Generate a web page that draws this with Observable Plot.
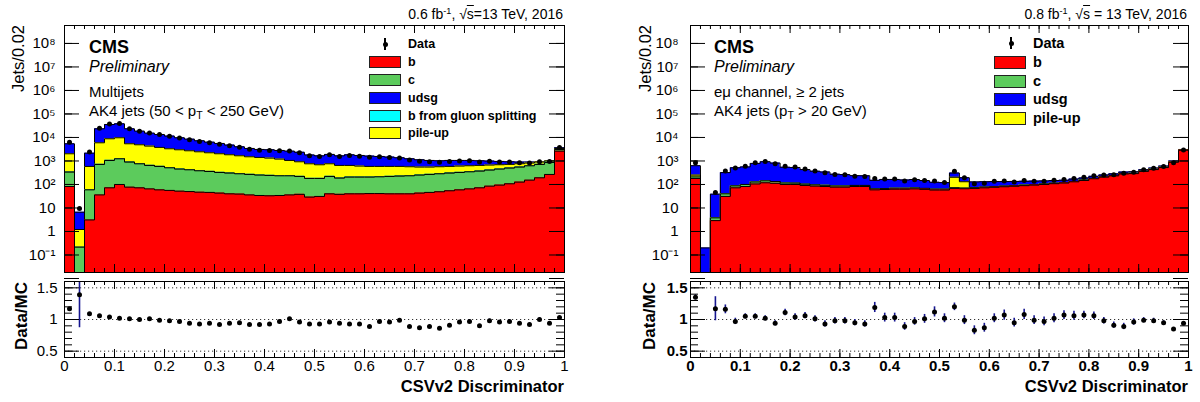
<!DOCTYPE html>
<html><head><meta charset="utf-8">
<script src="https://cdn.jsdelivr.net/npm/d3@7"></script>
<script src="https://cdn.jsdelivr.net/npm/@observablehq/plot@0.6"></script>
<style>
html,body{margin:0;padding:0;background:#fff;}
#root{position:relative;width:1200px;height:402px;overflow:hidden;font-family:"Liberation Sans",Arial,Helvetica,sans-serif;color:#000;}
#root svg{position:absolute;overflow:visible;}
.t{position:absolute;white-space:nowrap;line-height:1;}
.t sub{font-size:0.7em;vertical-align:baseline;position:relative;top:0.35em;}
.t sup{font-size:0.65em;vertical-align:baseline;position:relative;top:-0.5em;}
.ov{text-decoration:overline;}
.sw{position:absolute;box-sizing:border-box;border:1px solid #222;}
</style></head><body><div id="root"></div>
<script>
// ---------- binning ----------
const binWidth = 0.02;
const binLo = d3.range(50).map(i => Math.round(i * binWidth * 100) / 100);

// ---------- left panel: multijets ----------
const leftB = [82, 0, 3.1, 36, 72, 100, 77, 72, 65, 59, 56, 52, 50, 47, 46, 43, 40, 39, 36, 34,
  33, 34, 36, 38, 29, 31, 40, 38,
  40, 40, 41, 41, 40, 40, 40, 43, 46, 49, 54, 59, 65, 72, 85, 94, 107, 126, 153, 192, 267, 2620];
const leftC = [253, 0.215, 56, 674, 978, 1137, 815, 685, 579, 525, 456, 398, 371, 335, 311, 281, 264, 246, 231, 216,
  209, 200, 198, 181, 151, 149, 179, 148,
  165, 165, 164, 171, 179, 186, 194, 207, 221, 236, 250, 265, 281, 297, 323, 356, 389, 421, 470, 518, 597, 470];
const leftBgs = [4, 0, 1, 10, 15, 17, 12, 10, 9, 8, 7, 6, 6, 5, 5, 4, 4, 4, 3, 3,
  3, 3, 3, 3, 2, 2, 3, 2, 2, 2, 2, 2, 3, 3, 3, 3, 3, 4, 4, 4, 4, 4, 5, 5, 6, 6, 7, 8, 9, 7];
const leftPu = [1685, 1.0, 525, 5220, 7730, 8450, 4490, 4120, 3640, 3180, 2790, 2540, 2290, 2070, 1870, 1700, 1530, 1375, 1240, 1160,
  1078, 964, 816, 703, 577, 507, 538, 458,
  439, 398, 379, 372, 365, 358, 331, 297, 280, 280, 280, 279, 277, 275, 257, 237, 214, 210, 186, 182, 120, 310];
const leftUdsg = [3360, 5.4, 1570, 17470, 26900, 28500, 18000, 13700, 11000, 9640, 8100, 6700, 5780, 4760, 4100, 3540, 2890, 2350, 1900, 1680,
  1670, 1602, 1570, 1418, 1043, 963, 1143, 1006,
  1186, 1112, 1023, 971, 872, 781, 672, 575, 503, 451, 466, 447, 427, 372, 319, 266, 212, 135, 83, 30, 32, 230];
const leftData = [6300, 9.5, 2400, 24800, 37100, 39000, 23600, 18600, 15450, 13270, 11170, 9400, 7980, 6700, 5950, 5115, 4440, 3810, 3130, 2840,
  2780, 2716, 2646, 2246, 1674, 1535, 1824, 1551, 1702, 1595, 1430, 1508, 1398, 1351, 1100, 976, 935, 874, 955, 1008,
  1018, 914, 964, 915, 894, 838, 820, 922, 955, 3740];
const leftRatio = [1.17, 1.39, 1.09, 1.06, 1.04, 1.02, 1.01, 1.0, 1.01, 0.99, 0.98, 0.97, 0.94, 0.93, 0.94, 0.92, 0.94, 0.95, 0.92, 0.92,
  0.93, 0.97, 1.01, 0.96, 0.93, 0.93, 0.96, 0.94, 0.93, 0.93, 0.89, 0.97, 0.96, 0.99, 0.89, 0.87, 0.89, 0.86, 0.91, 0.96,
  0.97, 0.90, 0.98, 0.96, 0.97, 0.94, 0.92, 1.0, 0.94, 1.03];
const leftRatioErr = [0.015, 0.52, 0.01, 0.005, 0.005, 0.005, 0.005, 0.005, 0.005, 0.005,
  0.005, 0.005, 0.006, 0.006, 0.007, 0.007, 0.008, 0.008, 0.009, 0.01,
  0.01, 0.01, 0.01, 0.01, 0.012, 0.012, 0.012, 0.012, 0.012, 0.013,
  0.013, 0.014, 0.015, 0.015, 0.016, 0.017, 0.018, 0.02, 0.02, 0.025,
  0.025, 0.02, 0.025, 0.02, 0.025, 0.025, 0.025, 0.025, 0.025, 0.01];

// ---------- right panel: e-mu channel ----------
const rightB = [180, 0, 2.9, 31, 72, 82, 105, 118, 112, 100, 100, 91, 85, 82, 77, 77, 82, 82, 59, 61,
  63, 63, 65, 62, 58, 58, 68, 66, 68, 72, 76, 80, 84, 89, 94, 100, 108, 115, 130, 148,
  175, 205, 232, 280, 290, 360, 430, 525, 880, 2850];
const rightC = [30, 0, 0.9, 9, 15, 18, 22, 25, 22, 15, 14, 12, 11, 10, 9, 9, 9, 9, 6, 6,
  6, 6, 6, 6, 5, 5, 5, 5, 5, 5, 5, 5, 5, 5, 5, 5, 5, 5, 5, 6, 6, 7, 7, 8, 8, 9, 10, 12, 15, 25];
const rightPu = [40, 0, 0, 0, 0, 0, 0, 0, 0, 0, 0, 0, 0, 0, 0, 0, 0, 0, 0, 0,
  0, 0, 0, 0, 0, 0, 130, 60, 0, 0, 0, 0, 0, 0, 0, 0, 0, 0, 0, 0,
  0, 0, 0, 0, 0, 0, 0, 0, 0, 0];
const rightUdsg = [380, 0.2, 35, 280, 428, 460, 663, 787, 676, 425, 416, 327, 270, 248, 187, 177, 147, 144, 85, 97,
  95, 87, 92, 79, 61, 57, 104, 63, 56, 54, 52, 48, 46, 43, 40, 37, 34, 32, 35, 36,
  41, 43, 45, 49, 49, 55, 60, 68, 105, 210];
const rightData = [850, null, 46, 370, 500, 590, 830, 950, 760, 600, 550, 455, 370, 315, 268, 258, 226, 219, 178, 169,
  169, 139, 158, 148, 139, 122, 369, 192, 107, 114, 136, 142, 128, 148, 138, 138, 150, 163, 180, 203,
  235, 250, 258, 300, 333, 420, 490, 575, 850, 2900];
const rightRatio = [1.35, null, 1.17, 1.16, 0.97, 1.05, 1.05, 1.02, 0.94, 1.11, 1.04, 1.06, 1.01, 0.93, 0.98, 0.98, 0.95, 0.93, 1.19, 1.03,
  1.03, 0.89, 0.97, 1.01, 1.12, 1.02, 1.2, 0.99, 0.83, 0.87, 1.02, 1.07, 0.95, 1.08, 0.99, 0.97, 1.02, 1.07, 1.06, 1.07,
  1.06, 0.98, 0.91, 0.89, 0.96, 0.99, 0.98, 0.95, 0.85, 0.94];
const rightRatioErr = [0.04, null, 0.19, 0.07, 0.05, 0.04, 0.04, 0.04, 0.04, 0.05,
  0.05, 0.05, 0.05, 0.05, 0.05, 0.05, 0.05, 0.05, 0.08, 0.07,
  0.07, 0.06, 0.06, 0.07, 0.08, 0.07, 0.06, 0.07, 0.07, 0.07,
  0.07, 0.08, 0.07, 0.08, 0.07, 0.07, 0.07, 0.07, 0.07, 0.06,
  0.06, 0.05, 0.05, 0.05, 0.05, 0.04, 0.04, 0.03, 0.02, 0.01];

// ---------- ticks / labels ----------
const yLogTicks = [1e-1, 1, 10, 1e2, 1e3, 1e4, 1e5, 1e6, 1e7, 1e8];
const xTickLabels = [0, 0.1, 0.2, 0.3, 0.4, 0.5, 0.6, 0.7, 0.8, 0.9, 1];
const ratioTicks = [0.5, 1, 1.5];
const ratioGrid = [0.5, 1, 1.5];
const legendLeft = ["Data", "b", "c", "udsg", "b from gluon splitting", "pile-up"];
const legendRight = ["Data", "b", "c", "udsg", "pile-up"];

const COL = {b: "#ff0000", c: "#5ccb5c", udsg: "#0000ff", bgs: "#00ffff", pu: "#ffff00"};
const yDomain = [0.018, 5.8e8];
const rDomain = [0.4, 1.6];
const FLOOR = 1e-4;
const FONT = '"Liberation Sans", Arial, Helvetica, sans-serif';
const root = document.getElementById("root");

const supMap = {"-": "⁻", "0": "⁰", "1": "¹", "2": "²", "3": "³", "4": "⁴", "5": "⁵", "6": "⁶", "7": "⁷", "8": "⁸", "9": "⁹"};
function logFmt(v) {
  const e = Math.round(Math.log10(v));
  if (e === 0) return "1";
  if (e === 1) return "10";
  return "10" + String(e).split("").map(ch => supMap[ch]).join("");
}

function tickMarks(pw, ph, xMaj, xMin, yMaj, yMin, L) {
  const s = {stroke: "#000", strokeWidth: 1};
  return [
    Plot.ruleX(xMin, {x: d => d, insetTop: ph - L.xMin, ...s}),
    Plot.ruleX(xMin, {x: d => d, insetBottom: ph - L.xMin, ...s}),
    Plot.ruleX(xMaj, {x: d => d, insetTop: ph - L.xMaj, ...s}),
    Plot.ruleX(xMaj, {x: d => d, insetBottom: ph - L.xMaj, ...s}),
    Plot.ruleY(yMin, {y: d => d, insetRight: pw - L.yMin, ...s}),
    Plot.ruleY(yMin, {y: d => d, insetLeft: pw - L.yMin, ...s}),
    Plot.ruleY(yMaj, {y: d => d, insetRight: pw - L.yMaj, ...s}),
    Plot.ruleY(yMaj, {y: d => d, insetLeft: pw - L.yMaj, ...s})
  ];
}

const xMinorTicks = d3.range(0, 1.0001, binWidth);
const yMinorLog = d3.scaleLog().domain(yDomain).ticks();
const rMinor = d3.range(0.5, 1.51, 0.1);

function place(svg, left, top) {
  svg.style.left = left + "px";
  svg.style.top = top + "px";
  root.appendChild(svg);
}

function topPanel(o) {
  const W = 600, H = 275, mT = 25, mB = 3;
  const pw = W - o.mL - o.mR, ph = H - mT - mB;
  let run = binLo.map(() => 0);
  const cumLayers = o.layers.map(l => { run = run.map((s, i) => s + l.vals[i]); return {color: l.color, top: run}; });
  const edgeRows = top => binLo.map((x, i) => ({x, v: Math.max(top[i], FLOOR)}))
    .concat([{x: 1, v: Math.max(top[top.length - 1], FLOOR)}]);
  const marks = [];
  for (let k = cumLayers.length - 1; k >= 0; k--) {
    const rows = edgeRows(cumLayers[k].top);
    marks.push(Plot.area(rows, {x1: "x", y1: FLOOR, y2: "v", curve: "step-after", fill: cumLayers[k].color, clip: true}));
    marks.push(Plot.line(rows, {x: "x", y: "v", curve: "step-after", stroke: "#000", strokeWidth: 1, clip: true}));
  }
  const pts = binLo.map((x, i) => ({x: x + binWidth / 2, v: o.data[i]})).filter(d => d.v != null && d.v > 0);
  marks.push(Plot.dot(pts, {x: "x", y: "v", r: 2.5, fill: "#000", stroke: null}));
  marks.push(...tickMarks(pw, ph, xTickLabels, xMinorTicks, yLogTicks.concat([1e-2]), yMinorLog,
    {xMaj: 8, xMin: 4, yMaj: 15, yMin: 8}));
  marks.push(Plot.frame({stroke: "#000", strokeWidth: 1}));
  marks.push(Plot.axisY(yLogTicks, {tickFormat: logFmt, tickSize: 0, tickPadding: o.yPad, fontSize: 15, label: null}));
  const svg = Plot.plot({
    width: W, height: H, marginTop: mT, marginBottom: mB, marginLeft: o.mL, marginRight: o.mR,
    style: {fontFamily: FONT, fontSize: "15px", background: "transparent", color: "#000"},
    x: {domain: [0, 1], axis: null},
    y: {type: "log", domain: yDomain},
    marks
  });
  place(svg, o.left, 0);
}

function ratioPanel(o) {
  const W = 600, H = 127, mT = 6, mB = 45;
  const pw = W - o.mL - o.mR, ph = H - mT - mB;
  const rows = binLo.map((x, i) => ({x: x + binWidth / 2, r: o.ratio[i], e: o.err[i]})).filter(d => d.r != null);
  const fw = o.bold ? "bold" : "normal";
  const svg = Plot.plot({
    width: W, height: H, marginTop: mT, marginBottom: mB, marginLeft: o.mL, marginRight: o.mR,
    style: {fontFamily: FONT, fontSize: "15px", background: "transparent", color: "#000"},
    x: {domain: [0, 1]},
    y: {domain: rDomain},
    marks: [
      Plot.ruleY(ratioGrid, {y: d => d, stroke: "#333", strokeWidth: 1, strokeDasharray: "1.2,2.8"}),
      Plot.ruleX(rows, {x: "x", y1: d => d.r - d.e, y2: d => d.r + d.e, stroke: "#161690", strokeWidth: 1.6, clip: true}),
      Plot.dot(rows, {x: "x", y: "r", r: 2.5, fill: "#000", stroke: null}),
      ...tickMarks(pw, ph, xTickLabels, xMinorTicks, ratioTicks, rMinor, {xMaj: 8, xMin: 4, yMaj: 15, yMin: 8}),
      Plot.frame({stroke: "#000", strokeWidth: 1}),
      Plot.axisY(ratioTicks, {tickFormat: d => String(d), tickSize: 0, tickPadding: o.yPad, fontSize: 15, fontWeight: fw, label: null}),
      Plot.axisX(xTickLabels, {tickFormat: d => String(d), tickSize: 0, tickPadding: 3, fontSize: 15, fontWeight: fw, label: null})
    ]
  });
  place(svg, o.left, 275);
}

// ---------- build panels ----------
topPanel({left: 0, mL: 64, mR: 36, yPad: 9, data: leftData,
  layers: [{vals: leftB, color: COL.b}, {vals: leftC, color: COL.c}, {vals: leftBgs, color: COL.bgs},
           {vals: leftPu, color: COL.pu}, {vals: leftUdsg, color: COL.udsg}]});
ratioPanel({left: 0, mL: 64, mR: 36, yPad: 7, ratio: leftRatio, err: leftRatioErr, bold: false});
topPanel({left: 600, mL: 90, mR: 12, yPad: 12, data: rightData,
  layers: [{vals: rightB, color: COL.b}, {vals: rightC, color: COL.c},
           {vals: rightPu, color: COL.pu}, {vals: rightUdsg, color: COL.udsg}]});
ratioPanel({left: 600, mL: 90, mR: 12, yPad: 3, ratio: rightRatio, err: rightRatioErr, bold: true});

// ---------- text helpers ----------
function txt(html, x, cy, size, extra = {}) {
  const d = document.createElement("div");
  d.className = "t";
  d.innerHTML = html;
  Object.assign(d.style, {fontSize: size + "px", top: (cy - size / 2) + "px"}, extra);
  if (extra.right === undefined) d.style.left = x + "px";
  root.appendChild(d);
  return d;
}
function rotLabel(text, cx, yTop, len, align, size, weight) {
  const d = document.createElement("div");
  d.className = "t";
  d.textContent = text;
  Object.assign(d.style, {width: len + "px", textAlign: align, fontSize: size + "px", fontWeight: weight,
    left: (cx - size / 2) + "px", top: (yTop + len) + "px", height: size + "px",
    transformOrigin: "0 0", transform: "rotate(-90deg)"});
  root.appendChild(d);
}

// headers
txt('0.6 fb<sup>-1</sup>, √<span class="ov">s</span>=13 TeV, 2016', 0, 14, 14, {right: (1200 - 563) + "px"});
txt('0.8 fb<sup>-1</sup>, √<span class="ov">s</span> = 13 TeV, 2016', 0, 14, 14, {right: (1200 - 1187) + "px"});

// in-frame labels
function cmsBlock(x, line3, line4) {
  txt("CMS", x, 47, 18, {fontWeight: "bold"});
  txt("Preliminary", x, 67, 16, {fontStyle: "italic"});
  txt(line3, x, 91, 15);
  txt(line4, x, 110, 15);
}
cmsBlock(89, "Multijets", "AK4 jets (50 &lt; p<sub>T</sub> &lt; 250 GeV)");
cmsBlock(714, "eμ channel, ≥ 2 jets", "AK4 jets (p<sub>T</sub> &gt; 20 GeV)");

// axis titles
rotLabel("Jets/0.02", 18, 25, 120, "right", 16.5, "normal");
rotLabel("Jets/0.02", 645, 25, 120, "right", 16.5, "normal");
rotLabel("Data/MC", 21, 256, 120, "center", 17, "bold");
rotLabel("Data/MC", 649, 256, 120, "center", 17, "bold");
txt("CSVv2 Discriminator", 0, 386, 16.5, {right: (1200 - 564) + "px", fontWeight: "bold"});
txt("CSVv2 Discriminator", 0, 386, 16.5, {right: (1200 - 1188) + "px", fontWeight: "bold"});

// legends
function legend(labels, colors, boxX, markX, textX, rows, size, boxH) {
  labels.forEach((lab, i) => {
    const cy = rows[i];
    if (colors[i] === null) {
      const bar = document.createElement("div");
      Object.assign(bar.style, {position: "absolute", left: (markX - 0.75) + "px", top: (cy - 6) + "px", width: "1.5px", height: "12px", background: "#000"});
      root.appendChild(bar);
      const dot = document.createElement("div");
      Object.assign(dot.style, {position: "absolute", left: (markX - 2.5) + "px", top: (cy - 2.5) + "px", width: "5px", height: "5px", borderRadius: "50%", background: "#000"});
      root.appendChild(dot);
    } else {
      const sw = document.createElement("div");
      sw.className = "sw";
      Object.assign(sw.style, {left: boxX + "px", top: (cy - boxH / 2) + "px", width: "32px", height: boxH + "px", background: colors[i]});
      root.appendChild(sw);
    }
    txt(lab, textX, cy, size, {fontWeight: "bold"});
  });
}
legend(legendLeft, [null, COL.b, COL.c, COL.udsg, COL.bgs, COL.pu], 369, 385, 408, [44, 62, 80, 98, 116, 133], 12.5, 12);
legend(legendRight, [null, COL.b, COL.c, COL.udsg, COL.pu], 994, 1011, 1033, [43, 62, 81, 99, 118], 14.5, 13);
</script></body></html>
